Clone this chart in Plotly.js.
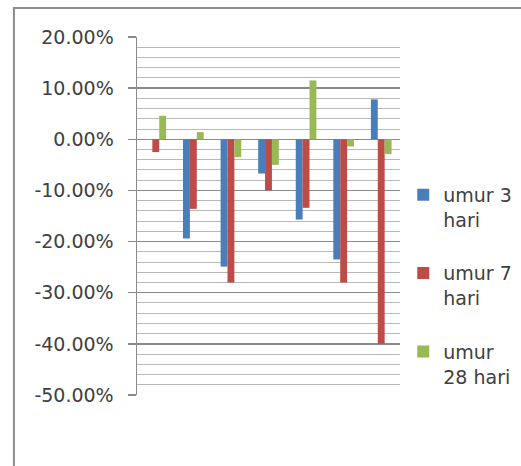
<!DOCTYPE html>
<html>
<head>
<meta charset="utf-8">
<script src="https://cdn.plot.ly/plotly-3.0.1.min.js"></script>
<style>
  html, body { margin: 0; padding: 0; background: #fff; }
  #chart { width: 521px; height: 466px; }
</style>
</head>
<body>
<div id="chart"></div>
<script>
// Seven specimens, change relative to the control mix
const categories = ['1', '2', '3', '4', '5', '6', '7'];
const seriesNames = ['umur 3<br>hari', 'umur 7<br>hari', 'umur<br>28 hari'];
const umur3 = [0.000, -0.194, -0.249, -0.067, -0.157, -0.235, 0.078];
const umur7 = [-0.025, -0.136, -0.280, -0.100, -0.134, -0.280, -0.400];
const umur28 = [0.046, 0.014, -0.035, -0.050, 0.115, -0.014, -0.029];
const colors = ['#4a7ebb', '#be4b48', '#98b954'];
const yTickVals = [0.2, 0.1, 0, -0.1, -0.2, -0.3, -0.4, -0.5];
const yTickText = ['20.00%', '10.00%', '0.00%', '-10.00%', '-20.00%', '-30.00%', '-40.00%', '-50.00%'];

const FONT = '"DejaVu Sans", Verdana, sans-serif';

const traces = [umur3, umur7, umur28].map((vals, i) => ({
  type: 'bar',
  name: seriesNames[i],
  legendgroup: 'g' + i,
  x: categories,
  y: vals,
  marker: { color: colors[i] }
}));

const layout = {
  width: 521,
  height: 466,
  margin: { l: 137, r: 121, t: 37, b: 71, autoexpand: false },
  paper_bgcolor: '#fff',
  plot_bgcolor: '#fff',
  barmode: 'group',
  bargap: 0.45,
  bargroupgap: 0,
  font: { family: FONT, color: '#404040', size: 19 },
  xaxis: {
    type: 'category',
    showticklabels: false,
    showgrid: false,
    zeroline: false,
    showline: false,
    ticks: ''
  },
  yaxis: {
    range: [-0.5, 0.2],
    tickvals: yTickVals,
    ticktext: yTickText,
    showgrid: true,
    gridcolor: '#8a8a8a',
    gridwidth: 1.5,
    zeroline: false,
    showline: true,
    linecolor: '#8a8a8a',
    linewidth: 1.5,
    ticks: 'outside',
    ticklen: 8,
    tickcolor: '#8a8a8a',
    tickwidth: 1.5,
    ticklabelstandoff: 10,
    tickfont: { family: FONT, size: 19, color: '#404040' },
    minor: {
      dtick: 0.02,
      tick0: 0,
      showgrid: true,
      gridcolor: '#b8b8b8',
      gridwidth: 1,
      ticks: ''
    }
  },
  showlegend: true,
  legend: {
    xref: 'container',
    x: 0.774,
    xanchor: 'left',
    y: 0.305,
    yanchor: 'middle',
    valign: 'top',
    tracegroupgap: 26,
    font: { family: FONT, size: 19, color: '#404040' },
    bgcolor: 'rgba(0,0,0,0)'
  },
  shapes: [{
    type: 'rect',
    xref: 'paper', yref: 'paper',
    x0: -0.468, x1: 2,
    y0: -0.5, y1: 1.081,
    line: { color: '#8c8c8c', width: 2 },
    fillcolor: 'rgba(0,0,0,0)',
    layer: 'below'
  }]
};

Plotly.newPlot('chart', traces, layout, { displayModeBar: false, staticPlot: true });
</script>
</body>
</html>
